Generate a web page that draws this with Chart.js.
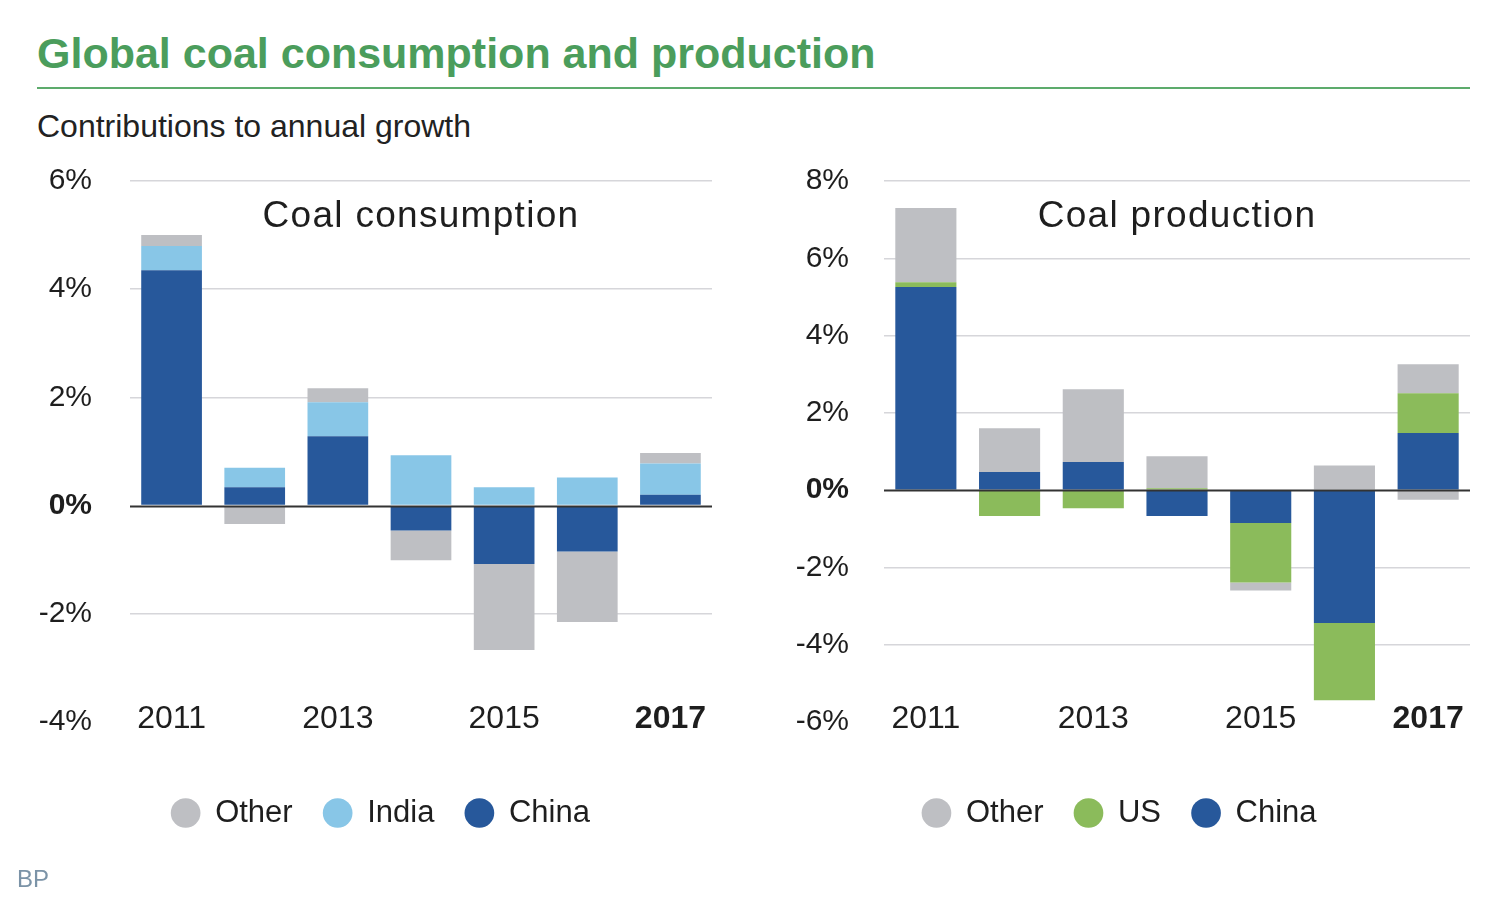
<!DOCTYPE html>
<html>
<head>
<meta charset="utf-8">
<script src="https://cdn.jsdelivr.net/npm/chart.js@4.4.1/dist/chart.umd.min.js"></script>
<style>
html,body{margin:0;padding:0;background:#fff;width:1510px;height:912px;overflow:hidden;font-family:"Liberation Sans",Arial,sans-serif;}
.abs{position:absolute;white-space:nowrap;line-height:1;}
#title{left:37px;top:32px;font-size:43px;font-weight:700;color:#4b9d5c;}
#rule{position:absolute;left:37px;top:87px;width:1433px;height:2px;background:#5dab6c;}
#subtitle{left:37px;top:110px;font-size:32px;color:#222;}
.ctitle{top:196px;font-size:37px;color:#1e1e1e;letter-spacing:1.3px;width:600px;text-align:center;}
#bp{left:17px;top:867px;font-size:24px;color:#7b93a7;}
canvas{position:absolute;top:140px;}
</style>
</head>
<body>
<div id="title" class="abs">Global coal consumption and production</div>
<div id="rule"></div>
<div id="subtitle" class="abs">Contributions to annual growth</div>
<canvas id="cons" width="760" height="730" style="left:0px;width:760px;height:730px;"></canvas>
<canvas id="prod" width="720" height="730" style="left:760px;width:720px;height:730px;"></canvas>
<div class="abs ctitle" style="left:121px;">Coal consumption</div>
<div class="abs ctitle" style="left:877px;">Coal production</div>
<div id="bp" class="abs">BP</div>
<script>
// ---- data ----
const years = ['2011', '2012', '2013', '2014', '2015', '2016', '2017'];
const xTickLabels = ['2011', '', '2013', '', '2015', '', '2017'];

const consChina = [4.35, 0.34, 1.28, -0.46, -1.08, -0.85, 0.20];
const consIndia = [0.45, 0.36, 0.63, 0.93, 0.34, 0.52, 0.58];
const consOther = [0.20, -0.34, 0.26, -0.55, -1.59, -1.30, 0.19];

const prodChina = [5.26, 0.47, 0.73, -0.67, -0.85, -3.44, 1.48];
const prodUS = [0.12, -0.67, -0.47, 0.05, -1.54, -2.00, 1.03];
const prodOther = [1.92, 1.13, 1.88, 0.83, -0.21, 0.64, 0.75];
const prodOtherNeg = [0, 0, 0, 0, 0, 0, -0.25];

const consTicks = {min: -4, max: 6, step: 2};
const prodTicks = {min: -6, max: 8, step: 2};

// ---- style ----
const C_CHINA = '#27589b', C_INDIA = '#88c6e7', C_OTHER = '#bebfc3', C_US = '#8bbb5b';
const FONT = '"Liberation Sans", Arial, sans-serif';

const zeroLine = {
  id: 'zeroLine',
  afterLayout(chart, args, opts) {
    const dx = opts.legendShift || 0;
    if (chart.legend) { chart.legend.left += dx; chart.legend.right += dx; }
  },
  afterDatasetsDraw(chart) {
    const {ctx, chartArea} = chart;
    const y = Math.round(chart.scales.y.getPixelForValue(0)) + 0.5;
    ctx.save();
    ctx.strokeStyle = '#333';
    ctx.lineWidth = 1.8;
    ctx.beginPath();
    ctx.moveTo(chartArea.left, y);
    ctx.lineTo(chartArea.right, y);
    ctx.stroke();
    ctx.restore();
  }
};

function makeChart(id, datasets, ticks, pad, yWidth, yPad, legendShift) {
  return new Chart(document.getElementById(id), {
    type: 'bar',
    data: {labels: years, datasets},
    plugins: [zeroLine],
    options: {
      responsive: false,
      animation: false,
      devicePixelRatio: 1,
      layout: {padding: pad, autoPadding: false},
      datasets: {bar: {barPercentage: 0.73, categoryPercentage: 1, borderWidth: 0}},
      plugins: {
        zeroLine: {legendShift},
        tooltip: {enabled: false},
        title: {display: false},
        legend: {
          position: 'bottom',
          reverse: true,
          labels: {
            filter: (item) => item.text !== '',
            usePointStyle: true,
            pointStyle: 'circle',
            boxWidth: 28,
            boxHeight: 21,
            padding: 31,
            color: '#1e1e1e',
            font: {family: FONT, size: 31}
          }
        }
      },
      scales: {
        x: {
          stacked: true,
          grid: {display: false, drawTicks: false},
          border: {display: false},
          afterFit: (s) => { s.height = 44.5; s.paddingLeft = 0; s.paddingRight = 0; },
          ticks: {
            autoSkip: false,
            maxRotation: 0,
            mirror: true,
            padding: -16,
            color: '#1e1e1e',
            callback: (v, i) => xTickLabels[i],
            font: (c) => ({family: FONT, size: 32, weight: c.index === 6 ? 'bold' : 'normal'})
          }
        },
        y: {
          stacked: true,
          min: ticks.min,
          max: ticks.max,
          afterFit: (s) => { s.width = yWidth; s.paddingTop = 0; s.paddingBottom = 0; },
          border: {display: false},
          grid: {
            drawTicks: false,
            lineWidth: 1.5,
            color: (c) => (c.tick && (c.tick.value === ticks.min || c.tick.value === 0)) ? 'rgba(0,0,0,0)' : '#d6d6da'
          },
          ticks: {
            stepSize: ticks.step,
            padding: yPad,
            color: '#1e1e1e',
            callback: (v) => v + '%',
            font: (c) => ({family: FONT, size: 30, weight: (c.tick && c.tick.value === 0) ? 'bold' : 'normal'})
          }
        }
      }
    }
  });
}

makeChart('cons', [
  {label: 'China', data: consChina, backgroundColor: C_CHINA},
  {label: 'India', data: consIndia, backgroundColor: C_INDIA},
  {label: 'Other', data: consOther, backgroundColor: C_OTHER}
], consTicks, {top: 41, left: 0, right: 48, bottom: 31.5}, 130, 38, 24.75);

makeChart('prod', [
  {label: 'China', data: prodChina, backgroundColor: C_CHINA},
  {label: 'US', data: prodUS, backgroundColor: C_US},
  {label: 'Other', data: prodOther, backgroundColor: C_OTHER},
  {label: '', data: prodOtherNeg, backgroundColor: C_OTHER}
], prodTicks, {top: 41, left: 0, right: 10, bottom: 31.5}, 124, 35, 4.5);
</script>
</body>
</html>
